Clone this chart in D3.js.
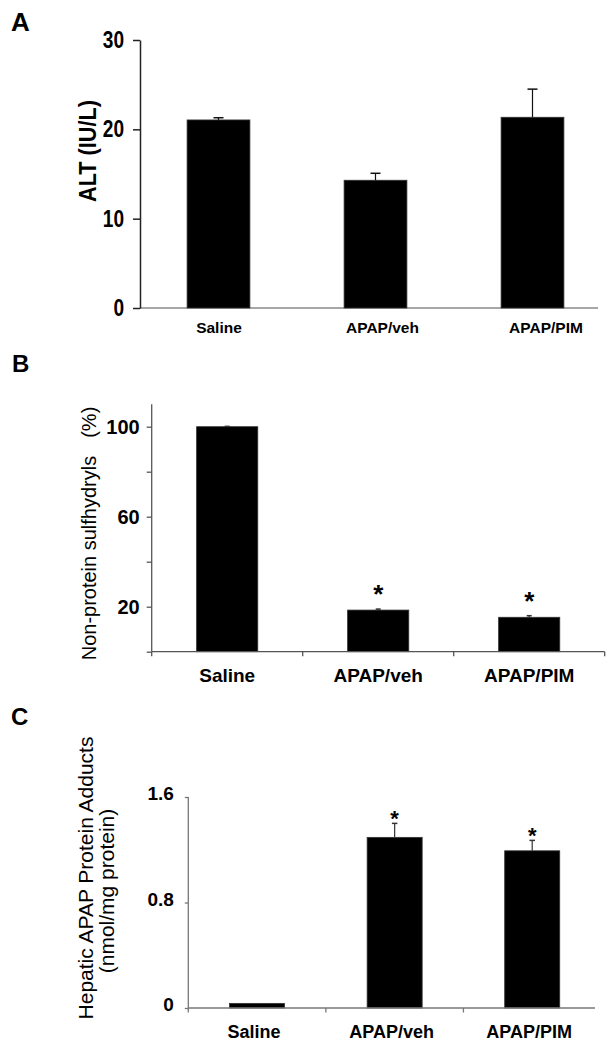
<!DOCTYPE html>
<html><head><meta charset="utf-8">
<script src="https://cdn.jsdelivr.net/npm/d3@7"></script>
<style>body{margin:0;background:#fff} svg{display:block}</style>
</head><body><svg id="c" width="616" height="1050"></svg>
<script>
// ---------- data ----------
const categories = ["Saline", "APAP/veh", "APAP/PIM"];
// Panel A: ALT (IU/L)
const altMean = [21.05, 14.3, 21.35];
const altErr = [0.25, 0.78, 3.15];
const altTicks = [0, 10, 20, 30];
// Panel B: Non-protein sulfhydryls (%)
const npsMean = [100, 18.5, 15.3];
const npsErr = [0.15, 0.45, 0.7];
const npsSig = ["", "*", "*"];
const npsTicks = [0, 20, 40, 60, 80, 100];
const npsTickLabels = [20, 60, 100];
// Panel C: Hepatic APAP protein adducts (nmol/mg protein)
const adductMean = [0.035, 1.294, 1.192];
const adductErr = [0, 0.106, 0.079];
const adductSig = ["", "*", "*"];
const adductTicks = [0, 0.8, 1.6];

// ---------- setup ----------
const svg = d3.select("#c");
svg.append("rect").attr("width", 616).attr("height", 1050).attr("fill", "#fff");
const ARIAL = "'Liberation Sans', Arial, sans-serif";

function panelLetter(t, x, y, size) {
  svg.append("text").attr("x", x).attr("y", y).text(t)
    .attr("font-family", ARIAL).attr("font-weight", "bold").attr("font-size", size).attr("fill", "#000");
}

function drawBars(g, x, y, mean, err, widthFrac, capW, errColor) {
  const bw = x.bandwidth() * widthFrac;
  categories.forEach((c, i) => {
    const cx = x(c) + x.bandwidth() / 2;
    g.append("rect").attr("x", cx - bw / 2).attr("y", y(mean[i]))
      .attr("width", bw).attr("height", y(0) - y(mean[i]))
      .attr("fill", "#000").attr("stroke", "#333").attr("stroke-width", 0.8);
    if (err[i] > 0) {
      g.append("line").attr("x1", cx).attr("x2", cx)
        .attr("y1", y(mean[i])).attr("y2", y(mean[i] + err[i]))
        .attr("stroke", errColor).attr("stroke-width", 1.2);
      g.append("line").attr("x1", cx - capW / 2).attr("x2", cx + capW / 2)
        .attr("y1", y(mean[i] + err[i])).attr("y2", y(mean[i] + err[i]))
        .attr("stroke", errColor).attr("stroke-width", 1.5);
    }
  });
}

// ---------- Panel A ----------
panelLetter("A", 11, 31, 26);
{
  const g = svg.append("g");
  const y = d3.scaleLinear().domain([0, 30]).range([308, 40]);
  const x = d3.scaleBand().domain(categories).range([140, 611]);
  const xl = d3.scalePoint().domain(categories).range([219, 546]);
  g.append("line").attr("x1", 140).attr("x2", 598).attr("y1", y(0)).attr("y2", y(0))
    .attr("stroke", "#8a8a8a").attr("stroke-width", 1.5);
  drawBars(g, x, y, altMean, altErr, 0.4, 10, "#111");
  const ax = g.append("g").attr("transform", "translate(140,0)")
    .call(d3.axisLeft(y).tickValues(altTicks).tickSize(7).tickSizeOuter(0).tickPadding(9));
  ax.select(".domain").attr("stroke", "#222").attr("stroke-width", 1.5);
  ax.selectAll(".tick line").attr("stroke", "#222").attr("stroke-width", 1.5);
  const sx = 0.82;
  ax.selectAll("text").attr("font-family", ARIAL).attr("font-weight", "bold")
    .attr("font-size", 23.3).attr("fill", "#000")
    .attr("x", -16 / sx).attr("transform", `scale(${sx},1)`);
  g.append("text").attr("transform", "translate(96,151) rotate(-90) scale(0.93,1)")
    .attr("text-anchor", "middle").text("ALT (IU/L)")
    .attr("font-family", ARIAL).attr("font-weight", "bold").attr("font-size", 23.3).attr("fill", "#000");
  g.selectAll(".xl").data(categories).enter().append("text")
    .attr("x", d => xl(d)).attr("y", 333).attr("text-anchor", "middle").text(d => d)
    .attr("font-family", ARIAL).attr("font-weight", "bold").attr("font-size", 15.5).attr("fill", "#000");
}

// ---------- Panel B ----------
panelLetter("B", 12, 372, 24);
{
  const g = svg.append("g");
  const y = d3.scaleLinear().domain([0, 110]).range([651.7, 404.2]);
  const x = d3.scaleBand().domain(categories).range([151.7, 604.7]);
  const bounds = categories.map(c => x(c)).concat([x.range()[1]]);
  drawBars(g, x, y, npsMean, npsErr, 0.405, 5, "#333");
  g.append("line").attr("x1", x.range()[0]).attr("x2", x.range()[1])
    .attr("y1", y(0)).attr("y2", y(0)).attr("stroke", "#555").attr("stroke-width", 1.3);
  g.selectAll(".xt").data(bounds).enter().append("line")
    .attr("x1", d => d).attr("x2", d => d).attr("y1", y(0)).attr("y2", y(0) + 4.5)
    .attr("stroke", "#555").attr("stroke-width", 1.3);
  g.append("line").attr("x1", x.range()[0]).attr("x2", x.range()[0])
    .attr("y1", y(0)).attr("y2", y(110)).attr("stroke", "#555").attr("stroke-width", 1.3);
  const ax = g.append("g").attr("transform", `translate(${x.range()[0]},0)`)
    .call(d3.axisLeft(y).tickValues(npsTicks).tickSize(5).tickSizeOuter(0).tickPadding(7)
      .tickFormat(d => npsTickLabels.includes(d) ? d : ""));
  ax.select(".domain").remove();
  ax.selectAll(".tick line").attr("stroke", "#555").attr("stroke-width", 1.3);
  ax.selectAll("text").attr("font-family", ARIAL).attr("font-weight", "bold")
    .attr("font-size", 20).attr("fill", "#000");
  categories.forEach((c, i) => {
    if (!npsSig[i]) return;
    g.append("text").attr("x", x(c) + x.bandwidth() / 2).attr("y", y(npsMean[i] + npsErr[i]) - 6)
      .attr("text-anchor", "middle").text(npsSig[i])
      .attr("font-family", ARIAL).attr("font-weight", "bold").attr("font-size", 26).attr("fill", "#000");
  });
  const t = g.append("text").attr("transform", "translate(96,533.5) rotate(-90)")
    .attr("text-anchor", "middle")
    .attr("font-family", ARIAL).attr("font-size", 20).attr("fill", "#000");
  t.append("tspan").text("Non-protein sulfhydryls");
  t.append("tspan").attr("dx", 18).text("(%)");
  g.selectAll(".xl").data(categories).enter().append("text")
    .attr("x", d => x(d) + x.bandwidth() / 2).attr("y", 682).attr("text-anchor", "middle").text(d => d)
    .attr("font-family", ARIAL).attr("font-weight", "bold").attr("font-size", 19).attr("fill", "#000");
}

// ---------- Panel C ----------
panelLetter("C", 11, 725, 24);
{
  const g = svg.append("g");
  const y = d3.scaleLinear().domain([0, 1.6]).range([1008, 797]);
  const x = d3.scaleBand().domain(categories).range([188.3, 601]);
  const bounds = categories.map(c => x(c));
  drawBars(g, x, y, adductMean, adductErr, 0.4, 5.5, "#333");
  g.append("line").attr("x1", x.range()[0]).attr("x2", 595)
    .attr("y1", y(0)).attr("y2", y(0)).attr("stroke", "#777").attr("stroke-width", 1.3);
  g.selectAll(".xt").data(bounds).enter().append("line")
    .attr("x1", d => d).attr("x2", d => d).attr("y1", y(0)).attr("y2", y(0) + 4.5)
    .attr("stroke", "#777").attr("stroke-width", 1.3);
  g.append("line").attr("x1", x.range()[0]).attr("x2", x.range()[0])
    .attr("y1", y(0)).attr("y2", y(1.6)).attr("stroke", "#777").attr("stroke-width", 1.3);
  const ax = g.append("g").attr("transform", `translate(${x.range()[0]},0)`)
    .call(d3.axisLeft(y).tickValues(adductTicks).tickSize(3.5).tickSizeOuter(0).tickPadding(11)
      .tickFormat(d => d === 0 ? "0" : d3.format(".1f")(d)));
  ax.select(".domain").remove();
  ax.selectAll(".tick line").attr("stroke", "#777").attr("stroke-width", 1.3);
  ax.selectAll("text").attr("font-family", ARIAL).attr("font-weight", "bold")
    .attr("font-size", 19).attr("fill", "#000").attr("dy", "0.15em");
  categories.forEach((c, i) => {
    if (!adductSig[i]) return;
    g.append("text").attr("x", x(c) + x.bandwidth() / 2).attr("y", y(adductMean[i] + adductErr[i]) + 3)
      .attr("text-anchor", "middle").text(adductSig[i])
      .attr("font-family", ARIAL).attr("font-weight", "bold").attr("font-size", 22).attr("fill", "#000");
  });
  g.append("text").attr("transform", "translate(93,878) rotate(-90)").attr("text-anchor", "middle")
    .text("Hepatic APAP Protein Adducts")
    .attr("font-family", ARIAL).attr("font-size", 21).attr("fill", "#000");
  g.append("text").attr("transform", "translate(114,891) rotate(-90)").attr("text-anchor", "middle")
    .text("(nmol/mg protein)")
    .attr("font-family", ARIAL).attr("font-size", 21).attr("fill", "#000");
  g.selectAll(".xl").data(categories).enter().append("text")
    .attr("x", d => x(d) + x.bandwidth() / 2 - 3).attr("y", 1038).attr("text-anchor", "middle").text(d => d)
    .attr("font-family", ARIAL).attr("font-weight", "bold").attr("font-size", 18).attr("fill", "#000");
}
</script>
</body></html>
